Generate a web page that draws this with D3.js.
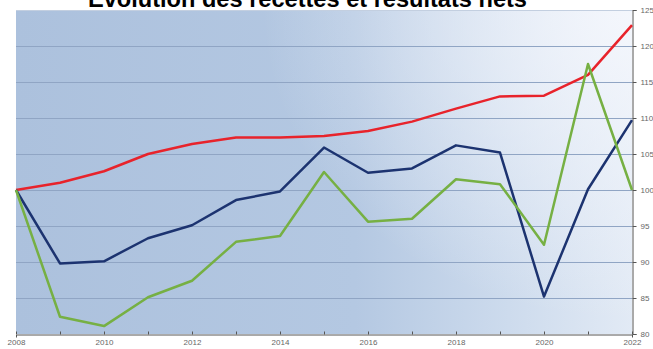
<!DOCTYPE html>
<html>
<head>
<meta charset="utf-8">
<script src="https://cdn.jsdelivr.net/npm/d3@7"></script>
<style>
  body { margin: 0; background: #fff; }
  svg { display: block; }
</style>
</head>
<body>
<div id="chart"></div>
<script>
const years = [2008, 2009, 2010, 2011, 2012, 2013, 2014, 2015, 2016, 2017, 2018, 2019, 2020, 2021, 2022]
const recettes = [100, 101, 102.6, 105, 106.4, 107.3, 107.3, 107.5, 108.2, 109.5, 111.3, 113, 113.1, 116, 122.9]
const resultatA = [100, 89.8, 90.1, 93.3, 95.1, 98.6, 99.8, 105.9, 102.4, 103, 106.2, 105.2, 85.2, 100.1, 109.7]
const resultatB = [100, 82.4, 81.1, 85.1, 87.4, 92.8, 93.6, 102.5, 95.6, 96, 101.5, 100.8, 92.4, 117.5, 100]
const yTicks = [80, 85, 90, 95, 100, 105, 110, 115, 120, 125]
const xLabels = [2008, 2010, 2012, 2014, 2016, 2018, 2020, 2022]
const title = "Évolution des recettes et résultats nets"

const width = 653, height = 349
const margin = {top: 10, right: 21, bottom: 15, left: 16}

const svg = d3.select("#chart").append("svg")
  .attr("width", width)
  .attr("height", height)

const x = d3.scaleLinear()
  .domain([2008, 2022])
  .range([margin.left, width - margin.right])
const y = d3.scaleLinear()
  .domain([80, 125])
  .range([height - margin.bottom, margin.top])

// background gradient
const defs = svg.append("defs")
const grad = defs.append("linearGradient")
  .attr("id", "bg")
  .attr("x1", 0).attr("x2", 1).attr("y1", 0).attr("y2", 0)
grad.append("stop").attr("offset", 0).attr("stop-color", "#acc1dd")
grad.append("stop").attr("offset", 0.55).attr("stop-color", "#b4c8e2")
grad.append("stop").attr("offset", 0.8).attr("stop-color", "#cddbed")
grad.append("stop").attr("offset", 1).attr("stop-color", "#e2eaf5")
const glow = defs.append("radialGradient")
  .attr("id", "glow")
  .attr("cx", 1).attr("cy", 0).attr("r", 0.6)
  .attr("gradientTransform", "scale(1,1.6)")
glow.append("stop").attr("offset", 0).attr("stop-color", "#f6f8fd").attr("stop-opacity", 0.9)
glow.append("stop").attr("offset", 1).attr("stop-color", "#f6f8fd").attr("stop-opacity", 0)

const plotW = x(2022) - x(2008), plotH = y(80) - y(125)
svg.append("rect")
  .attr("x", x(2008)).attr("y", y(125))
  .attr("width", plotW).attr("height", plotH)
  .attr("fill", "url(#bg)")
svg.append("rect")
  .attr("x", x(2008)).attr("y", y(125))
  .attr("width", plotW).attr("height", plotH)
  .attr("fill", "url(#glow)")

// gridlines
svg.append("g")
  .selectAll("line")
  .data(yTicks.filter(d => d > 80))
  .join("line")
    .attr("x1", x(2008)).attr("x2", x(2022))
    .attr("y1", d => y(d) + 0.5).attr("y2", d => y(d) + 0.5)
    .attr("stroke", d => d == 125 ? "#c3cfe0" : "#90a5c4")
    .attr("stroke-width", 1)

// right axis
const yAxis = svg.append("g")
  .attr("transform", `translate(${x(2022) + 0.5},0)`)
  .call(d3.axisRight(y).tickValues(yTicks).tickSize(4).tickPadding(4))
yAxis.select(".domain").attr("stroke", "#555")
yAxis.selectAll(".tick line").attr("stroke", "#555")
yAxis.selectAll("text")
  .attr("fill", "#666")
  .style("font-family", "'Liberation Sans', Arial, sans-serif")
  .style("font-size", "8px")

// bottom axis
const xAxis = svg.append("g")
  .attr("transform", `translate(0,${y(80) + 0.5})`)
  .call(d3.axisBottom(x).tickValues(years).tickSize(3).tickFormat(d => xLabels.includes(d) ? d : ""))
xAxis.select(".domain").attr("stroke", "#555")
xAxis.selectAll(".tick line").attr("stroke", "#555").attr("y2", -3)
xAxis.selectAll("text")
  .attr("y", 5)
  .attr("fill", "#666")
  .style("font-family", "'Liberation Sans', Arial, sans-serif")
  .style("font-size", "8px")

// lines
const line = d3.line()
  .x((d, i) => x(years[i]))
  .y(d => y(d))

const series = [
  {values: recettes, color: "#e8232b"},
  {values: resultatA, color: "#1c3370"},
  {values: resultatB, color: "#76b043"}
]
svg.append("g")
  .selectAll("path")
  .data(series)
  .join("path")
    .attr("d", d => line(d.values))
    .attr("fill", "none")
    .attr("stroke", d => d.color)
    .attr("stroke-width", 2.5)
    .attr("stroke-linejoin", "round")

// title, cut off at the top like the source image
const t = svg.append("text")
  .attr("x", 88)
  .attr("y", 7)
  .attr("font-family", "'Liberation Sans', Arial, sans-serif")
  .attr("font-weight", "bold")
  .attr("font-size", 20)
  .attr("fill", "#000")
  .text(title)
const len = t.node().getComputedTextLength()
t.attr("font-size", 20 * 439 / len)
</script>
</body>
</html>
